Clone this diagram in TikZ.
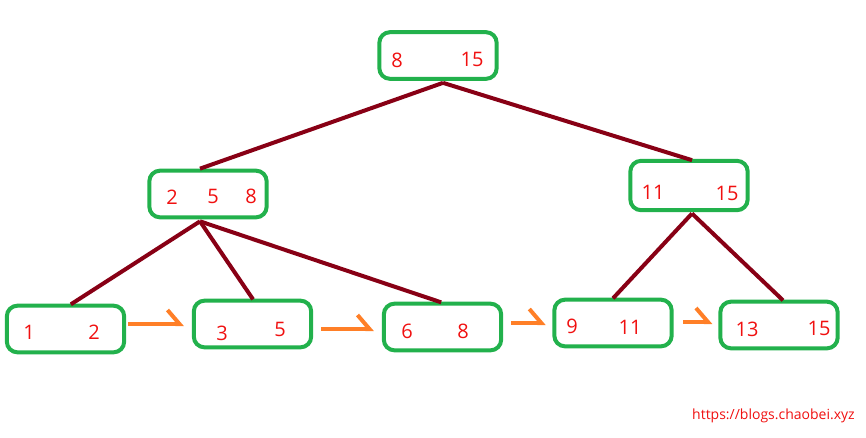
\documentclass[tikz,border=0pt]{standalone}
\usepackage{fontspec}
\setmainfont{Open Sans}
\usetikzlibrary{arrows.meta}
\definecolor{boxgreen}{HTML}{22B14C}
\definecolor{linered}{HTML}{880015}
\definecolor{arrorange}{HTML}{FF7F27}
\definecolor{txtred}{HTML}{F01010}
\tikzset{
  box/.style={draw=boxgreen, line width=3pt, rounded corners=8pt, minimum width=88pt, minimum height=35pt, inner sep=0pt},
  num/.style={text=txtred, font=\fontsize{15}{16}\selectfont, inner sep=0pt},
  edge/.style={draw=linered, line width=3pt},
  link/.style={draw=arrorange, line width=3pt, -{Straight Barb[left, length=9pt, width=21pt]}},
}
\begin{document}
\begin{tikzpicture}[x=0.75pt,y=-0.75pt]
\useasboundingbox (0,0) rectangle (866,437);
% boxes
\node[box] (root) at (438,55.5) {};
\node[box] (ml) at (208,194) {};
\node[box, minimum height=37pt] (mr) at (689,185.5) {};
\node[box] (l1) at (65.5,329) {};
\node[box] (l2) at (252.5,324) {};
\node[box] (l3) at (442.5,327) {};
\node[box] (l4) at (613,323) {};
\node[box] (l5) at (779,325) {};
% numbers
\node[num] (r8) at (397,60) {8};
\node[num] (r15) at (472,59) {15};
\node[num] (m2) at (172,197) {2};
\node[num] (m5) at (213,196) {5};
\node[num] (m8) at (251,196) {8};
\node[num] (n11) at (653,192) {11};
\node[num] (n15) at (727,193) {15};
\node[num] (a1) at (29,332) {1};
\node[num] (a2) at (94,332) {2};
\node[num] (b3) at (222,333) {3};
\node[num] (b5) at (280,329) {5};
\node[num] (c6) at (407,331) {6};
\node[num] (c8) at (463,331) {8};
\node[num] (d9) at (572,326) {9};
\node[num] (d11) at (630,327) {11};
\node[num] (e13) at (747,329) {13};
\node[num] (e15) at (819,328) {15};
% tree edges
\draw[edge] ([xshift=3.75pt,yshift=-1.5pt]root.south) -- ([xshift=-6pt]ml.north);
\draw[edge] ([xshift=3.75pt,yshift=-1.5pt]root.south) -- ([xshift=2.25pt,yshift=-1pt]mr.north);
\draw[edge] ([xshift=-6pt,yshift=-1.5pt]ml.south) -- ([xshift=4pt,yshift=-0.5pt]l1.north);
\draw[edge] ([xshift=-6pt,yshift=-1.5pt]ml.south) -- ([xshift=0.4pt,yshift=-0.5pt]l2.north);
\draw[edge] ([xshift=-6pt,yshift=-1.5pt]ml.south) -- ([xshift=-1pt,yshift=-0.5pt]l3.north);
\draw[edge] ([xshift=2.25pt,yshift=-1pt]mr.south) -- ([yshift=-0.5pt]l4.north);
\draw[edge] ([xshift=2.25pt,yshift=-1pt]mr.south) -- ([xshift=3pt,yshift=-0.5pt]l5.north);
% leaf links
\draw[link] ([xshift=1.5pt,yshift=3.75pt]l1.east) -- ([xshift=-6pt]l2.west);
\draw[link] ([xshift=6pt,yshift=-3.75pt]l2.east) -- ([xshift=-6pt,yshift=-1.5pt]l3.west);
\draw[link] ([xshift=6pt,yshift=3pt]l3.east) -- ([xshift=-5pt]l4.west);
\draw[link] ([xshift=7pt,yshift=0.75pt]l4.east) -- ([xshift=-4.5pt,yshift=2.25pt]l5.west);
% watermark
\node[text=txtred, font=\fontsize{10.5}{12}\selectfont, anchor=east, inner sep=0pt] (wm) at (855,416) {https://blogs.chaobei.xyz};
\end{tikzpicture}
\end{document}
